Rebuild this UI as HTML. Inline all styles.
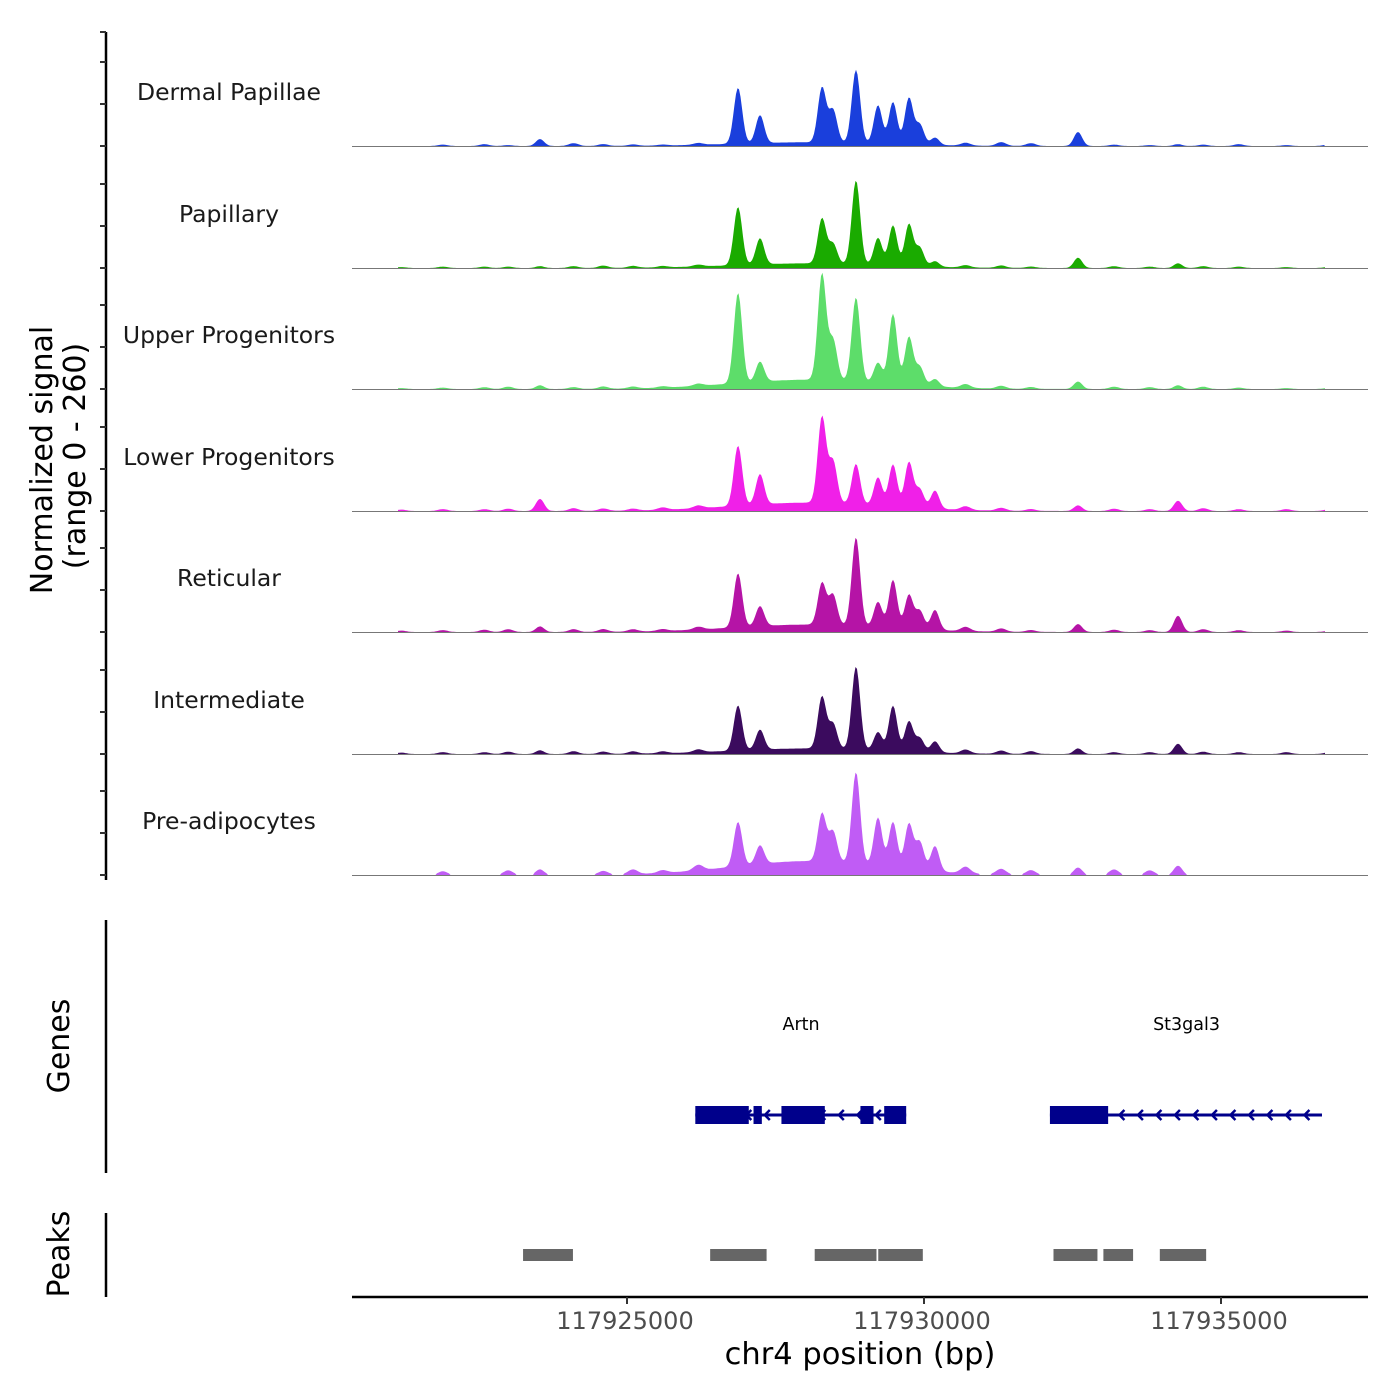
<!DOCTYPE html>
<html><head><meta charset="utf-8"><style>
html,body{margin:0;padding:0;background:#fff}
svg{display:block;font-family:"DejaVu Sans","Liberation Sans",sans-serif}
</style></head><body>
<svg id="chart" width="1400" height="1400" viewBox="0 0 1400 1400" xmlns="http://www.w3.org/2000/svg">
<g id="tracks"></g>
<g id="axes"></g>
<g id="genes"></g>
<g id="peaks"></g>
</svg>
<script>
const trackNames = ["Dermal Papillae","Papillary","Upper Progenitors","Lower Progenitors","Reticular","Intermediate","Pre-adipocytes"];
const trackColors = ["#1a3fdc","#1aab00","#5ddd6a","#f020e8","#b514a6","#3b0b5e","#c05cf5"];
const peakPositions = [117923535,117926869,117927239,117928283,117928468,117928855,117929226,117929478,117929747,117929930,117930185,117932593,117934276];
const dermalHeights = [15,120,60,118,70,157,82,90,100,43,16,30,4];
const papillaryHeights = [4,125,56,97,43,180,58,86,90,40,12,22,10];
const upperHeights = [8,194,43,228,86,180,43,150,103,40,16,16,8];
const lowerHeights = [26,129,65,185,90,86,60,90,97,40,39,12,22];
const reticularHeights = [12,116,43,90,65,190,54,103,73,40,43,17,35];
const intermediateHeights = [8,97,43,112,54,178,39,97,65,30,24,12,22];
const preadipHeights = [12,95,40,103,65,196,103,97,97,60,54,16,20];
const broadHeights = [8,10,20,18,16,12,30];
const bgPositions = [117921200,117921900,117922600,117923000,117924100,117924600,117925100,117925600,117926200,117930700,117931300,117931800,117933200,117933800,117934700,117935300,117936100,117936800];
const bgHeights = [
 [1,3,4,2,6,4,3,2,4,6,8,6,3,2,3,4,2,3],
 [2,3,3,3,4,5,4,3,4,5,5,3,4,3,4,3,2,2],
 [2,3,4,5,4,5,4,3,5,8,6,4,5,4,5,3,2,2],
 [3,4,4,5,6,5,4,5,6,8,6,4,5,4,6,4,4,3],
 [3,4,5,6,6,6,5,4,6,9,7,4,5,4,6,4,3,2],
 [3,4,4,5,6,5,5,4,6,8,7,6,4,4,5,4,4,3],
 [6,8,0,10,0,8,10,6,12,14,12,10,12,10,0,0,0,0]
];
const allHeights=[dermalHeights,papillaryHeights,upperHeights,lowerHeights,reticularHeights,intermediateHeights,preadipHeights];
const xTicks=[117925000,117930000,117935000];
const xTickLabels=["117925000","117930000","117935000"];
const peakRegions=[[117923250,117924090],[117926400,117927350],[117928160,117929200],[117929230,117929980],[117932180,117932920],[117933020,117933520],[117933970,117934750]];
const artnExons=[[117926150,117927050],[117927130,117927270],[117927600,117928330],[117928930,117929150],[117929330,117929700]];
const st3Exons=[[117932120,117933100]];

const NS="http://www.w3.org/2000/svg";
const X0=352,X1=1368;
function xs(bp){return 627+(bp-117925000)*0.0594;}
function inv(px){return 117925000+(px-627)/0.0594;}
const baselines=[146,268,389,511,632,754,875];
const vScale=121/260;
function mk(tag,attrs,parent){const e=document.createElementNS(NS,tag);for(const k in attrs)e.setAttribute(k,attrs[k]);parent.appendChild(e);return e;}
const tracks=document.getElementById('tracks');
for(let t=0;t<7;t++){
  const base=baselines[t];
  const hs=allHeights[t];
  let pts=[];
  const startPx = t<1?430:(t<2?398:(t===6?410:398));
  const endPx = 1325;
  pts.push(startPx+','+base);
  for(let px=startPx;px<=endPx;px+=1.5){
    const bp=inv(px);
    let v=0;
    for(let i=0;i<peakPositions.length;i++){const d=(bp-peakPositions[i])/70;v+=hs[i]*Math.exp(-d*d/2);}
    const db=(bp-117928100)/1300; v+=broadHeights[t]*Math.exp(-db*db/2);
    for(let i=0;i<bgPositions.length;i++){const d=(bp-bgPositions[i])/80;v+=bgHeights[t][i]*Math.exp(-d*d/2);}
    if(t===6 && v<3) v=0;
    pts.push(px.toFixed(1)+','+(base-v*vScale).toFixed(1));
  }
  pts.push(endPx+','+base);
  const g=mk('g',{},tracks);
  
  
  const poly=mk('polygon',{points:pts.join(' '),fill:trackColors[t]},g);
  
  
  const bl=mk('line',{x1:X0,x2:X1,y1:base+0.5,y2:base+0.5,stroke:'#777','stroke-width':1},g);
  
  
  const lab=mk('text',{x:229,y:base-46,'text-anchor':'middle','font-size':23.5,fill:'#1a1a1a'},g);
  lab.textContent=trackNames[t];
  
  
}
const axes=document.getElementById('axes');
mk('line',{x1:106,x2:106,y1:32,y2:880,stroke:'#000','stroke-width':2.5},axes);
for(let t=0;t<7;t++){for(const o of [0,42,84]){const y=baselines[t]-o;mk('line',{x1:100,x2:106,y1:y,y2:y,stroke:'#333','stroke-width':2},axes);}}
mk('line',{x1:100,x2:106,y1:32,y2:32,stroke:'#333','stroke-width':2},axes);
const yt=mk('text',{transform:'translate(52,460) rotate(-90)','text-anchor':'middle','font-size':30,fill:'#000'},axes);
yt.textContent='Normalized signal';


const yt2=mk('text',{transform:'translate(85,456) rotate(-90)','text-anchor':'middle','font-size':30,fill:'#000'},axes);
yt2.textContent='(range 0 - 260)';


mk('line',{x1:106,x2:106,y1:920,y2:1173,stroke:'#000','stroke-width':2.5},axes);
const gt=mk('text',{transform:'translate(69,1046) rotate(-90)','text-anchor':'middle','font-size':30,fill:'#000'},axes);
gt.textContent='Genes';


mk('line',{x1:106,x2:106,y1:1213,y2:1297,stroke:'#000','stroke-width':2.5},axes);
const pt=mk('text',{transform:'translate(69,1254) rotate(-90)','text-anchor':'middle','font-size':30,fill:'#000'},axes);
pt.textContent='Peaks';


mk('line',{x1:X0,x2:X1,y1:1297,y2:1297,stroke:'#000','stroke-width':2.5},axes);
for(let i=0;i<xTicks.length;i++){
  const x=xs(xTicks[i]);
  mk('line',{x1:x,x2:x,y1:1297,y2:1304,stroke:'#333','stroke-width':2},axes);
  const tl=mk('text',{x:x-2,y:1329,'text-anchor':'middle','font-size':24,fill:'#4d4d4d'},axes);
  tl.textContent=xTickLabels[i];
  
  
}
const xt=mk('text',{x:860,y:1364,'text-anchor':'middle','font-size':30.5,fill:'#000'},axes);
xt.textContent='chr4 position (bp)';



const genes=document.getElementById('genes');
function drawGene(name,start,end,exons,labelBp){
  const g=mk('g',{},genes);
  
  
  const y=1115;
  mk('line',{x1:xs(start),x2:xs(end),y1:y,y2:y,stroke:'#00008b','stroke-width':3},g);
  for(let px=xs(start)+14;px<xs(end)-4;px+=18.5){
    mk('polyline',{points:(px+5)+','+(y-5)+' '+px+','+y+' '+(px+5)+','+(y+5),fill:'none',stroke:'#00008b','stroke-width':2.5},g);
  }
  for(const e of exons){mk('rect',{x:xs(e[0]),y:y-9,width:xs(e[1])-xs(e[0]),height:18,fill:'#00008b'},g);}
  const l=mk('text',{x:xs(labelBp),y:1030,'text-anchor':'middle','font-size':17.5,fill:'#000'},g);
  l.textContent=name;
  
  
}
drawGene('Artn',117926150,117929700,artnExons,117927930);
drawGene('St3gal3',117932120,117936700,st3Exons,117934420);

const peaks=document.getElementById('peaks');
for(const p of peakRegions){
  const r=mk('rect',{x:xs(p[0]),y:1249,width:xs(p[1])-xs(p[0]),height:12,fill:'#666'},peaks);
  
  
}
</script>
</body></html>
